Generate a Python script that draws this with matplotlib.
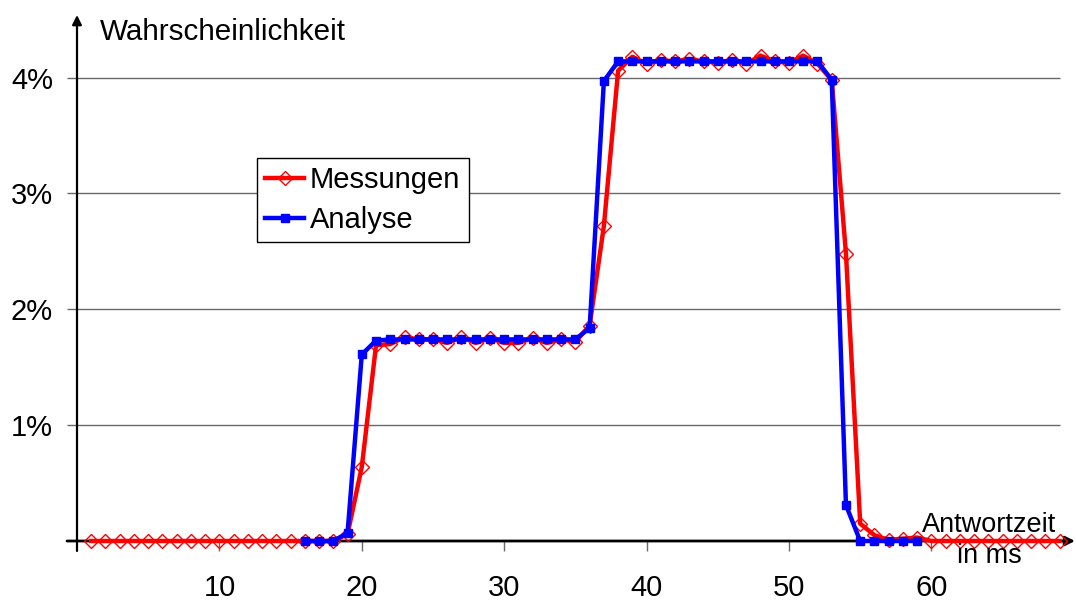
import matplotlib
matplotlib.use("Agg")
import matplotlib.pyplot as plt

plt.rcParams['font.family'] = ['Liberation Sans', 'DejaVu Sans']

# Antwortzeit in ms
x_mess = list(range(1, 70))
x_anal = list(range(16, 60))

# Wahrscheinlichkeit in %
messungen = [0.0] * 18 + [
    0.06, 0.64, 1.69, 1.70, 1.76, 1.74, 1.74, 1.71, 1.76, 1.71,
    1.75, 1.71, 1.71, 1.75, 1.71, 1.74, 1.72, 1.86, 2.72, 4.06,
    4.18, 4.12, 4.15, 4.14, 4.16, 4.14, 4.13, 4.15, 4.12, 4.19,
    4.14, 4.13, 4.19, 4.12, 3.98, 2.48, 0.15, 0.05, 0.01, 0.02,
    0.03] + [0.0] * 10
analyse = [0.0, 0.0, 0.0, 0.07, 1.61, 1.73] + [1.74] * 14 + [
    1.84, 3.97] + [4.14] * 15 + [3.98, 0.31, 0.0, 0.0, 0.0, 0.0, 0.0]

x_ticks = [10, 20, 30, 40, 50, 60]
y_ticks = [1, 2, 3, 4]
y_ticklabels = ['1%', '2%', '3%', '4%']

W, H = 1076, 600
fig = plt.figure(figsize=(W / 100, H / 100), dpi=100)
x0, x1 = 77, 1075
y0, y1 = 541, 15
ax = fig.add_axes([x0 / W, 1 - y0 / H, (x1 - x0) / W, (y0 - y1) / H])
ax.set_xlim(0, (x1 - x0) / 14.24)
ax.set_ylim(0, (y0 - y1) / 115.85)
for s in ax.spines.values():
    s.set_visible(False)

grid_col = '#6a6a6a'
ax.hlines(y_ticks, 0, 69, colors=grid_col, lw=1.0, zorder=1)

ax.set_xticks(x_ticks)
ax.set_xticklabels([str(t) for t in x_ticks])
ax.set_yticks(y_ticks)
ax.set_yticklabels(y_ticklabels)
ax.tick_params(axis='x', direction='out', length=7.5, width=1.0,
               color=grid_col, pad=16, labelsize=21)
ax.tick_params(axis='y', direction='out', length=7.2, width=1.0,
               color=grid_col, pad=10, labelsize=21)

# axis lines with arrow heads
ax.annotate('', xy=(0, 1.0), xycoords='axes fraction',
            xytext=(0, -10 / (y0 - y1)), textcoords='axes fraction',
            arrowprops=dict(arrowstyle='-|>', lw=1.6, color='black',
                            mutation_scale=14, shrinkA=0, shrinkB=0),
            zorder=2)
ax.annotate('', xy=(1.0, 0), xycoords='axes fraction',
            xytext=(-10 / (x1 - x0), 0), textcoords='axes fraction',
            arrowprops=dict(arrowstyle='-|>', lw=2.0, color='black',
                            mutation_scale=14, shrinkA=0, shrinkB=0),
            zorder=2)

ax.plot(x_mess, messungen, color='#ff0000', lw=3.2, marker='D',
        markersize=7.5, markerfacecolor='none', markeredgecolor='#ff0000',
        markeredgewidth=1.0, label='Messungen', zorder=3, clip_on=False)
ax.plot(x_anal, analyse, color='#0000ff', lw=3.2, marker='s',
        markersize=6, markerfacecolor='#0000ff', markeredgecolor='#0000ff',
        label='Analyse', zorder=4, clip_on=False)

leg = ax.legend(loc='upper left', bbox_to_anchor=(257 / W, 1 - 158 / H),
                bbox_transform=fig.transFigure, borderaxespad=0,
                fontsize=21, frameon=True, fancybox=False, numpoints=1,
                handlelength=1.34, handletextpad=0.2, labelspacing=0.4,
                borderpad=0.28)
leg.get_frame().set_edgecolor('black')
leg.get_frame().set_linewidth(1.0)
leg.get_frame().set_alpha(1.0)
leg.set_zorder(5)

fig.text(100 / W, 1 - 40 / H, 'Wahrscheinlichkeit', fontsize=21.3,
         ha='left', va='baseline')
fig.text(989 / W, 1 - 531.5 / H, 'Antwortzeit', fontsize=19.5,
         ha='center', va='baseline')
fig.text(989 / W, 1 - 563 / H, 'in ms', fontsize=19.5,
         ha='center', va='baseline')

fig.savefig('out.png', dpi=100)
